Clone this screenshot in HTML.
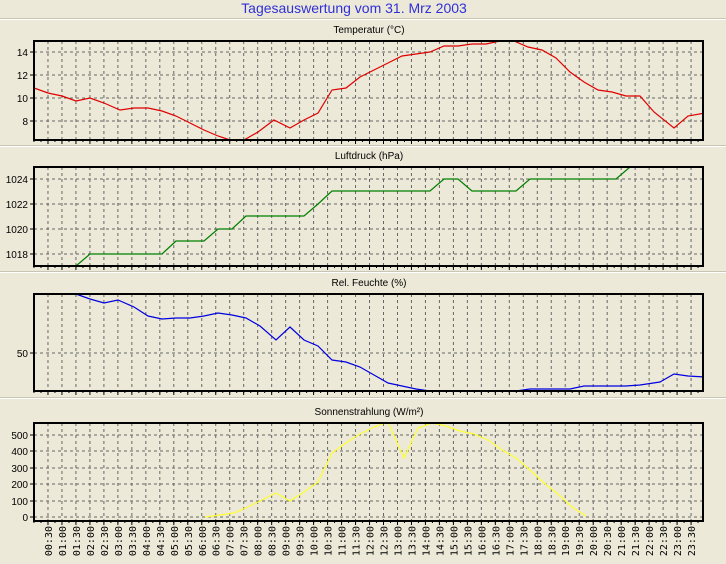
<!DOCTYPE html><html><head><style>body{margin:0;background:#ece9d8}svg{display:block}</style></head><body>
<svg width="726" height="564" xmlns="http://www.w3.org/2000/svg" font-family="Liberation Sans, sans-serif">
<rect width="726" height="564" fill="#ece9d8"/>
<text x="354" y="13" font-size="14" fill="#3030d8" text-anchor="middle">Tagesauswertung vom 31. Mrz 2003</text>
<g stroke="#c8c5b4" stroke-width="1"><line x1="0" y1="18.5" x2="726" y2="18.5"/><line x1="0" y1="145.5" x2="726" y2="145.5"/><line x1="0" y1="271.5" x2="726" y2="271.5"/><line x1="0" y1="397.5" x2="726" y2="397.5"/></g>
<g stroke="#fff" stroke-width="1"><line x1="0" y1="19.5" x2="726" y2="19.5"/><line x1="0" y1="146.5" x2="726" y2="146.5"/><line x1="0" y1="272.5" x2="726" y2="272.5"/><line x1="0" y1="398.5" x2="726" y2="398.5"/></g>
<g font-size="10" fill="#000" text-anchor="middle">
<text x="369" y="33">Temperatur (°C)</text>
<text x="369" y="159">Luftdruck (hPa)</text>
<text x="369" y="286">Rel. Feuchte (%)</text>
<text x="369" y="415">Sonnenstrahlung (W/m²)</text>
</g>
<script>
(function(){var ns="http://www.w3.org/2000/svg",s=document.querySelector('svg');
function el(t,a,p){var e=document.createElementNS(ns,t);for(var k in a)e.setAttribute(k,a[k]);(p||s).appendChild(e);return e;}
var panels=[[41,140,[[52,"14"],[75,"12"],[98,"10"],[121,"8"]]],[167,266,[[179,"1024"],[204,"1022"],[229,"1020"],[254,"1018"]]],[294,391,[[353,"50"]]],[423,521,[[435,"500"],[451,"400"],[468,"300"],[484,"200"],[501,"100"],[517,"0"]]]];
panels.forEach(function(p){var t=p[0],b=p[1];
for(var k=1;k<48;k++){var x=34+k*13.98;el('line',{x1:x,y1:t,x2:x,y2:b,stroke:'#666','stroke-dasharray':'3,3'});el('line',{x1:x,y1:b,x2:x,y2:b+4,stroke:'#000'});}
for(var k=0;k<96;k++){var x=34+k*6.99;el('line',{x1:x,y1:b,x2:x,y2:b+2,stroke:'#000'});}
p[2].forEach(function(y){el('line',{x1:34,y1:y[0],x2:703,y2:y[0],stroke:'#666','stroke-dasharray':'3,3'});el('line',{x1:30,y1:y[0],x2:34,y2:y[0],stroke:'#000'});var tx=el('text',{x:28,y:y[0]+4,'font-size':'10','text-anchor':'end'});tx.textContent=y[1];});
});})();
</script>
<defs><clipPath id="c1"><rect x="34" y="41" width="669" height="99"/></clipPath><clipPath id="c2"><rect x="34" y="167" width="669" height="99"/></clipPath><clipPath id="c3"><rect x="34" y="294" width="669" height="97"/></clipPath><clipPath id="c4"><rect x="34" y="423" width="669" height="98"/></clipPath></defs>
<g fill="none" stroke-width="1.2">
<polyline clip-path="url(#c1)" stroke="#e00000" points="34,88 48,93 62,96 76,101 90,98 104,103 120,110 134,108 148,108 162,111 176,116 190,123 204,130 218,136 230,140 244,140 258,132 274,120 290,128 304,120 318,113 332,90 346,88 360,77 374,70 388,63 402,56 416,54 430,52 444,46 458,46 472,44 486,44 500,41 514,41 528,47 542,50 556,58 570,72 584,82 598,90 612,92 626,96 640,96 654,112 674,128 688,116 705,113"/>
<polyline clip-path="url(#c2)" stroke="#008000" points="76,266 90,254 162,254 176,241 204,241 218,229 232,229 246,216 304,216 318,204 332,191 430,191 444,179 458,179 472,191 516,191 530,179 616,179 630,167 634,165"/>
<polyline clip-path="url(#c3)" stroke="#0000e0" points="76,294 90,299 104,303 118,300 134,307 148,316 162,319 176,318 190,318 204,316 218,313 232,315 246,318 260,326 276,340 290,327 304,340 318,346 332,360 346,362 360,367 374,375 388,383 402,386 416,389 430,391 516,391 530,389 570,389 584,386 626,386 640,385 660,382 674,374 688,376 705,377"/>
<polyline clip-path="url(#c4)" stroke="#ffff30" points="205,517 220,515 234,513 248,507 262,500 276,493 290,501 304,492 318,482 332,453 346,443 360,434 374,427 388,422 404,458 418,428 432,423 446,426 460,431 474,434 488,440 502,450 516,458 530,470 544,483 558,494 572,507 586,516"/>
</g>
<g fill="none" stroke="#000" stroke-width="2">
<rect x="34" y="41" width="669" height="99"/><rect x="34" y="167" width="669" height="99"/><rect x="34" y="294" width="669" height="97"/><rect x="34" y="423" width="669" height="98"/>
</g>
<g id="xl" font-family="DejaVu Sans Mono, monospace" font-size="10" fill="#000"></g>
<script>
(function(){var g=document.getElementById('xl');
for(var k=1;k<48;k++){var x=34+k*13.98+4;var h=Math.floor(k/2),m=k%2?"30":"00";var t=document.createElementNS("http://www.w3.org/2000/svg",'text');
t.setAttribute('transform','translate('+x+',526) rotate(-90)');t.setAttribute('text-anchor','end');t.textContent=(h<10?'0':'')+h+':'+m;g.appendChild(t);}})();
</script>
</svg></body></html>
